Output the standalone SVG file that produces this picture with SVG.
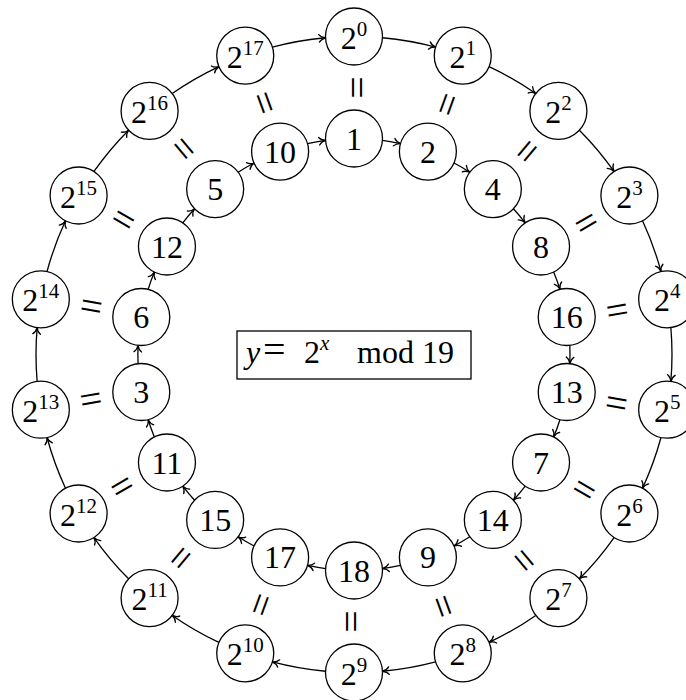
<svg xmlns="http://www.w3.org/2000/svg" width="686" height="700" viewBox="0 0 686 700">
<style>
.nd circle{fill:#fff;stroke:#000;stroke-width:1.3}
.lbl{font-family:"Liberation Serif",serif;font-size:32px;text-anchor:middle;fill:#000}
.sup{font-size:21px}
.eq{font-family:"Liberation Serif",serif;font-size:40px;text-anchor:middle;fill:#000}
.edge{fill:none;stroke:#000;stroke-width:1.3;marker-end:url(#ah)}
</style>
<defs>
<marker id="ah" viewBox="-8 -5 10 10" markerWidth="10" markerHeight="10" refX="0" refY="0" orient="auto" markerUnits="userSpaceOnUse" overflow="visible">
<path d="M-6.5,-3.8 C-5,-1.5 -2,-0.4 0,0 C-2,0.4 -5,1.5 -6.5,3.8" fill="none" stroke="#000" stroke-width="1.3" stroke-linecap="round"/>
</marker>
</defs>
<rect width="686" height="700" fill="#fff"/>
<g id="connectors">
<path class="edge" d="M382.47,37.77 A318,318 0 0 1 435.58,47.14"/>
<path class="edge" d="M489.08,66.62 A318,318 0 0 1 535.78,93.57"/>
<path class="edge" d="M579.40,130.17 A318,318 0 0 1 614.06,171.49"/>
<path class="edge" d="M642.52,220.79 A318,318 0 0 1 660.97,271.46"/>
<path class="edge" d="M670.85,327.54 A318,318 0 0 1 670.85,381.46"/>
<path class="edge" d="M660.97,437.54 A318,318 0 0 1 642.52,488.21"/>
<path class="edge" d="M614.06,537.51 A318,318 0 0 1 579.40,578.83"/>
<path class="edge" d="M535.78,615.43 A318,318 0 0 1 489.08,642.38"/>
<path class="edge" d="M435.58,661.86 A318,318 0 0 1 382.47,671.23"/>
<path class="edge" d="M325.53,671.23 A318,318 0 0 1 272.42,661.86"/>
<path class="edge" d="M218.92,642.38 A318,318 0 0 1 172.22,615.43"/>
<path class="edge" d="M128.60,578.83 A318,318 0 0 1 93.94,537.51"/>
<path class="edge" d="M65.48,488.21 A318,318 0 0 1 47.03,437.54"/>
<path class="edge" d="M37.15,381.46 A318,318 0 0 1 37.15,327.54"/>
<path class="edge" d="M47.03,271.46 A318,318 0 0 1 65.48,220.79"/>
<path class="edge" d="M93.94,171.49 A318,318 0 0 1 128.60,130.17"/>
<path class="edge" d="M172.22,93.57 A318,318 0 0 1 218.92,66.62"/>
<path class="edge" d="M272.42,47.14 A318,318 0 0 1 325.53,37.77"/>
<path class="edge" d="M382.44,140.38 A216,216 0 0 1 400.50,143.56"/>
<path class="edge" d="M453.96,163.02 A216,216 0 0 1 469.84,172.19"/>
<path class="edge" d="M513.42,208.75 A216,216 0 0 1 525.21,222.81"/>
<path class="edge" d="M553.65,272.07 A216,216 0 0 1 559.93,289.31"/>
<path class="edge" d="M569.81,345.33 A216,216 0 0 1 569.81,363.67"/>
<path class="edge" d="M559.93,419.69 A216,216 0 0 1 553.65,436.93"/>
<path class="edge" d="M525.21,486.19 A216,216 0 0 1 513.42,500.25"/>
<path class="edge" d="M469.84,536.81 A216,216 0 0 1 453.96,545.98"/>
<path class="edge" d="M400.50,565.44 A216,216 0 0 1 382.44,568.62"/>
<path class="edge" d="M325.56,568.62 A216,216 0 0 1 307.50,565.44"/>
<path class="edge" d="M254.04,545.98 A216,216 0 0 1 238.16,536.81"/>
<path class="edge" d="M194.58,500.25 A216,216 0 0 1 182.79,486.19"/>
<path class="edge" d="M154.35,436.93 A216,216 0 0 1 148.19,419.69"/>
<path class="edge" d="M138.07,363.67 A216,216 0 0 1 138.07,345.33"/>
<path class="edge" d="M148.19,289.31 A216,216 0 0 1 154.35,272.07"/>
<path class="edge" d="M182.79,222.81 A216,216 0 0 1 194.58,208.75"/>
<path class="edge" d="M238.16,172.19 A216,216 0 0 1 254.04,163.02"/>
<path class="edge" d="M307.50,143.56 A216,216 0 0 1 325.56,140.38"/>
</g>
<g id="equals">
<text class="eq" transform="translate(354,87.5) rotate(90)" y="11.3">=</text>
<text class="eq" transform="translate(445.32,103.6) rotate(110)" y="11.3">=</text>
<text class="eq" transform="translate(525.63,149.97) rotate(130)" y="11.3">=</text>
<text class="eq" transform="translate(585.23,221) rotate(150)" y="11.3">=</text>
<text class="eq" transform="translate(616.94,308.14) rotate(170)" y="11.3">=</text>
<text class="eq" transform="translate(616.94,400.86) rotate(190)" y="11.3">=</text>
<text class="eq" transform="translate(585.23,488) rotate(210)" y="11.3">=</text>
<text class="eq" transform="translate(525.63,559.03) rotate(230)" y="11.3">=</text>
<text class="eq" transform="translate(445.32,605.4) rotate(250)" y="11.3">=</text>
<text class="eq" transform="translate(354,621.5) rotate(270)" y="11.3">=</text>
<text class="eq" transform="translate(262.68,605.4) rotate(290)" y="11.3">=</text>
<text class="eq" transform="translate(182.37,559.03) rotate(310)" y="11.3">=</text>
<text class="eq" transform="translate(122.77,488) rotate(330)" y="11.3">=</text>
<text class="eq" transform="translate(91.06,400.86) rotate(350)" y="11.3">=</text>
<text class="eq" transform="translate(91.06,308.14) rotate(10)" y="11.3">=</text>
<text class="eq" transform="translate(122.77,221) rotate(30)" y="11.3">=</text>
<text class="eq" transform="translate(182.37,149.97) rotate(50)" y="11.3">=</text>
<text class="eq" transform="translate(262.68,103.6) rotate(70)" y="11.3">=</text>
</g>
<g id="o0" class="nd"><circle cx="354" cy="36.5" r="28.5"/><text class="lbl" x="354" y="48.5">2<tspan class="sup" dy="-13">0</tspan></text></g>
<g id="o1" class="nd"><circle cx="462.76" cy="55.68" r="28.5"/><text class="lbl" x="462.76" y="67.68">2<tspan class="sup" dy="-13">1</tspan></text></g>
<g id="o2" class="nd"><circle cx="558.41" cy="110.9" r="28.5"/><text class="lbl" x="558.41" y="122.9">2<tspan class="sup" dy="-13">2</tspan></text></g>
<g id="o3" class="nd"><circle cx="629.4" cy="195.5" r="28.5"/><text class="lbl" x="629.4" y="207.5">2<tspan class="sup" dy="-13">3</tspan></text></g>
<g id="o4" class="nd"><circle cx="667.17" cy="299.28" r="28.5"/><text class="lbl" x="667.17" y="311.28">2<tspan class="sup" dy="-13">4</tspan></text></g>
<g id="o5" class="nd"><circle cx="667.17" cy="409.72" r="28.5"/><text class="lbl" x="667.17" y="421.72">2<tspan class="sup" dy="-13">5</tspan></text></g>
<g id="o6" class="nd"><circle cx="629.4" cy="513.5" r="28.5"/><text class="lbl" x="629.4" y="525.5">2<tspan class="sup" dy="-13">6</tspan></text></g>
<g id="o7" class="nd"><circle cx="558.41" cy="598.1" r="28.5"/><text class="lbl" x="558.41" y="610.1">2<tspan class="sup" dy="-13">7</tspan></text></g>
<g id="o8" class="nd"><circle cx="462.76" cy="653.32" r="28.5"/><text class="lbl" x="462.76" y="665.32">2<tspan class="sup" dy="-13">8</tspan></text></g>
<g id="o9" class="nd"><circle cx="354" cy="672.5" r="28.5"/><text class="lbl" x="354" y="684.5">2<tspan class="sup" dy="-13">9</tspan></text></g>
<g id="o10" class="nd"><circle cx="245.24" cy="653.32" r="28.5"/><text class="lbl" x="245.24" y="665.32">2<tspan class="sup" dy="-13">10</tspan></text></g>
<g id="o11" class="nd"><circle cx="149.59" cy="598.1" r="28.5"/><text class="lbl" x="149.59" y="610.1">2<tspan class="sup" dy="-13">11</tspan></text></g>
<g id="o12" class="nd"><circle cx="78.6" cy="513.5" r="28.5"/><text class="lbl" x="78.6" y="525.5">2<tspan class="sup" dy="-13">12</tspan></text></g>
<g id="o13" class="nd"><circle cx="40.83" cy="409.72" r="28.5"/><text class="lbl" x="40.83" y="421.72">2<tspan class="sup" dy="-13">13</tspan></text></g>
<g id="o14" class="nd"><circle cx="40.83" cy="299.28" r="28.5"/><text class="lbl" x="40.83" y="311.28">2<tspan class="sup" dy="-13">14</tspan></text></g>
<g id="o15" class="nd"><circle cx="78.6" cy="195.5" r="28.5"/><text class="lbl" x="78.6" y="207.5">2<tspan class="sup" dy="-13">15</tspan></text></g>
<g id="o16" class="nd"><circle cx="149.59" cy="110.9" r="28.5"/><text class="lbl" x="149.59" y="122.9">2<tspan class="sup" dy="-13">16</tspan></text></g>
<g id="o17" class="nd"><circle cx="245.24" cy="55.68" r="28.5"/><text class="lbl" x="245.24" y="67.68">2<tspan class="sup" dy="-13">17</tspan></text></g>
<g id="i0" class="nd"><circle cx="354" cy="138.5" r="28.5"/><text class="lbl" x="354" y="149.5">1</text></g>
<g id="i1" class="nd"><circle cx="427.88" cy="151.53" r="28.5"/><text class="lbl" x="427.88" y="162.53">2</text></g>
<g id="i2" class="nd"><circle cx="492.84" cy="189.04" r="28.5"/><text class="lbl" x="492.84" y="200.04">4</text></g>
<g id="i3" class="nd"><circle cx="541.06" cy="246.5" r="28.5"/><text class="lbl" x="541.06" y="257.5">8</text></g>
<g id="i4" class="nd"><circle cx="566.72" cy="316.99" r="28.5"/><text class="lbl" x="566.72" y="327.99">16</text></g>
<g id="i5" class="nd"><circle cx="566.72" cy="392.01" r="28.5"/><text class="lbl" x="566.72" y="403.01">13</text></g>
<g id="i6" class="nd"><circle cx="541.06" cy="462.5" r="28.5"/><text class="lbl" x="541.06" y="473.5">7</text></g>
<g id="i7" class="nd"><circle cx="492.84" cy="519.96" r="28.5"/><text class="lbl" x="492.84" y="530.96">14</text></g>
<g id="i8" class="nd"><circle cx="427.88" cy="557.47" r="28.5"/><text class="lbl" x="427.88" y="568.47">9</text></g>
<g id="i9" class="nd"><circle cx="354" cy="570.5" r="28.5"/><text class="lbl" x="354" y="581.5">18</text></g>
<g id="i10" class="nd"><circle cx="280.12" cy="557.47" r="28.5"/><text class="lbl" x="280.12" y="568.47">17</text></g>
<g id="i11" class="nd"><circle cx="215.16" cy="519.96" r="28.5"/><text class="lbl" x="215.16" y="530.96">15</text></g>
<g id="i12" class="nd"><circle cx="166.94" cy="462.5" r="28.5"/><text class="lbl" x="166.94" y="473.5">11</text></g>
<g id="i13" class="nd"><circle cx="141.28" cy="392.01" r="28.5"/><text class="lbl" x="141.28" y="403.01">3</text></g>
<g id="i14" class="nd"><circle cx="141.28" cy="316.99" r="28.5"/><text class="lbl" x="141.28" y="327.99">6</text></g>
<g id="i15" class="nd"><circle cx="166.94" cy="246.5" r="28.5"/><text class="lbl" x="166.94" y="257.5">12</text></g>
<g id="i16" class="nd"><circle cx="215.16" cy="189.04" r="28.5"/><text class="lbl" x="215.16" y="200.04">5</text></g>
<g id="i17" class="nd"><circle cx="280.12" cy="151.53" r="28.5"/><text class="lbl" x="280.12" y="162.53">10</text></g>
<g id="formula">
<rect x="237" y="331" width="234" height="48" fill="#fff" stroke="#000" stroke-width="1.3"/>
<text class="lbl" style="text-anchor:start" y="363"><tspan x="246" font-style="italic">y</tspan><tspan x="263" font-size="40">=</tspan><tspan x="304">2</tspan><tspan class="sup" x="320" y="350" font-style="italic">x</tspan><tspan x="357" y="363">mod 19</tspan></text>
</g>
</svg>
